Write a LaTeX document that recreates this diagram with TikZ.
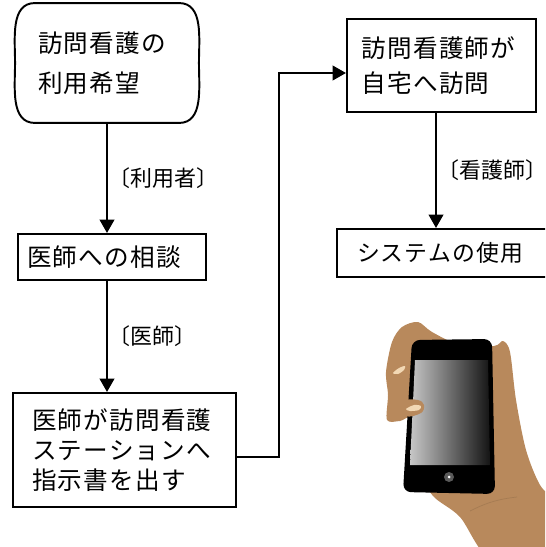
\documentclass[tikz,border=0pt]{standalone}
\usepackage{fontspec}
\newfontfamily\jp{Noto Sans CJK JP}[LetterSpace=5]
\newfontfamily\jplabel{Noto Sans CJK JP}
\usetikzlibrary{arrows.meta}
\definecolor{skin}{RGB}{184,137,92}
\definecolor{nail}{RGB}{242,216,180}

\begin{document}
\begin{tikzpicture}[x=0.02cm,y=-0.02cm,
  box/.style={draw,line width=1.1pt,align=left,inner ysep=0pt},
  jptext/.style={font=\jp\fontsize{14}{#1}\selectfont},
  flow/.style={line width=1.5pt,-{Triangle[length=0.27cm,width=0.29cm]}},
  who/.style={midway,anchor=west,inner sep=0pt,font=\jplabel\fontsize{12.5}{15}\selectfont}]
\useasboundingbox (0,0) rectangle (545,547);
\clip (0,0) rectangle (545,547);

% flow chart
\node[box,draw=none,jptext=23,text width=2.76cm,inner xsep=0.44cm,minimum height=2.36cm] (wish) at (107,63) {訪問看護の\\利用希望};
\draw[line width=1.1pt] ([xshift=0.4cm]wish.north west) -- ([xshift=-0.4cm]wish.north east)
  to[out=0,in=90] (wish.east) to[out=-90,in=0] ([xshift=-0.4cm]wish.south east)
  -- ([xshift=0.4cm]wish.south west) to[out=180,in=-90] (wish.west)
  to[out=90,in=180] cycle;
\node[box,jptext=17,text width=3.4cm,inner xsep=0.18cm,minimum height=0.92cm] (consult) at (112,257) {医師への相談};
\node[box,jptext=17,text width=3.7cm,inner xsep=0.38cm,minimum height=2.28cm] (order) at (124.5,450) {医師が訪問看護\\ステーションへ\\指示書を出す};
\node[box,jptext=20,text width=3.2cm,inner xsep=0.29cm,minimum height=1.86cm] (visit) at (441.5,65.5) {訪問看護師が\\自宅へ訪問};
\node[box,font=\jp\fontsize{13}{16}\selectfont,text width=4.4cm,inner xsep=0.4cm,minimum height=0.96cm] (system) at (467,253) {システムの使用};

\coordinate (turn) at (279,73);
\draw[flow] (wish.south) -- (wish.south |- consult.north) node[who] {〔利用者〕};
\draw[flow] (wish.south |- consult.south) -- (wish.south |- order.north) node[who] {〔医師〕};
\draw[flow] ([yshift=-0.14cm]order.east) -| (turn) -- (turn -| visit.west);
\draw[flow] ([xshift=-0.11cm]visit.south) -- ([xshift=-0.11cm]visit.south |- system.north) node[who] {〔看護師〕};

% hand holding a phone
\fill[skin] plot[smooth cycle,tension=0.5] coordinates {(392,342) (402,327) (418,322) (432,332) (460,345) (494,346)
  (503,341) (510,352) (516,400) (526,450) (540,485) (560,510) (560,560) (492,560) (460,517) (433,496) (420,470)
  (412,420) (400,421) (387,420) (388,395) (386,372)};
\draw[skin!80!black,line width=0.4pt,opacity=0.5] (470,511) to[bend left=10] (517,497);
\fill[nail] plot[smooth cycle] coordinates {(393,373) (399,368) (405,366) (404,370) (398,374)};
\fill[black,rounded corners=0.16cm] (412,340) -- (492,339) -- (495,494) -- (403,492) -- cycle;
\shade[left color=black!22,right color=black!92] (415,360) -- (488,360) -- (490,465) -- (410,465) -- cycle;
\fill[black!65] (449,477) circle (5);
\fill[white] (449,477) circle (1.5);
\fill[skin] plot[smooth cycle,tension=0.6] coordinates {(404,401) (418,400) (424,405) (421,413) (406,416)};
\fill[nail] plot[smooth cycle] coordinates {(406,409) (414,405) (421,406) (419,410) (410,411)};
\end{tikzpicture}
\end{document}
